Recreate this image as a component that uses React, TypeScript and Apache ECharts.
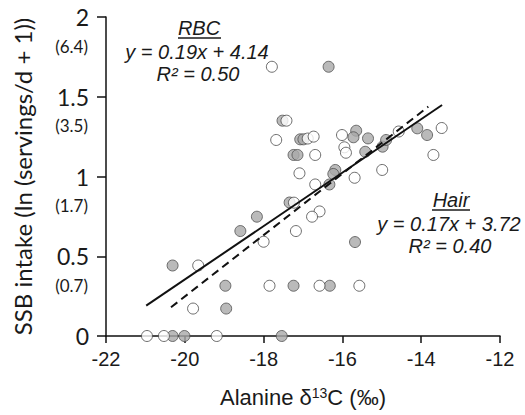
import React, { useEffect, useRef } from "react";
import * as echarts from "echarts";

// RBC (grey, dashed trend) points [x, y]
const rbcPoints: number[][] = [
  [-16.35, 1.688], [-17.52, 1.35], [-17.07, 1.233], [-16.99, 1.233], [-15.65, 1.287],
  [-15.72, 1.246], [-15.35, 1.239], [-17.24, 1.135], [-17.14, 1.135], [-15.42, 1.155],
  [-14.98, 1.187], [-14.89, 1.229], [-14.1, 1.302], [-13.85, 1.26], [-16.18, 1.041],
  [-16.23, 1.016], [-16.33, 0.95], [-17.34, 0.837], [-18.17, 0.748], [-18.59, 0.658],
  [-20.31, 0.442], [-15.68, 0.589], [-18.97, 0.315], [-17.24, 0.315], [-16.32, 0.315],
  [-18.95, 0.172], [-20.31, 0], [-20.01, 0], [-17.54, 0],
];

// Hair (white, solid trend) points [x, y]
const hairPoints: number[][] = [
  [-17.79, 1.688], [-17.42, 1.35], [-17.68, 1.229], [-16.88, 1.238], [-16.73, 1.25],
  [-16.01, 1.26], [-15.95, 1.183], [-15.91, 1.149], [-16.69, 1.135], [-17.09, 1.02],
  [-15.69, 0.992], [-16.69, 0.95], [-14.57, 1.282], [-13.48, 1.304], [-13.69, 1.135],
  [-14.99, 1.041], [-17.23, 0.836], [-16.58, 0.781], [-16.77, 0.748], [-17.18, 0.658],
  [-18.0, 0.591], [-19.66, 0.442], [-17.85, 0.315], [-16.58, 0.315], [-15.57, 0.315],
  [-19.79, 0.172], [-20.96, 0], [-20.53, 0], [-19.19, 0],
];

// Trend line endpoints
const rbcTrend: number[][] = [[-20.35, 0.18], [-13.82, 1.438]];
const hairTrend: number[][] = [[-20.98, 0.19], [-13.47, 1.448]];

// Secondary y tick labels (servings/d), attached to these y ticks
const ySubTicks: number[] = [2, 1.5, 1, 0.5];
const ySubLabels: string[] = ["(6.4)", "(3.5)", "(1.7)", "(0.7)"];

const rbcEq = ["RBC", "y = 0.19x + 4.14", "R² = 0.50"];
const hairEq = ["Hair", "y = 0.17x + 3.72", "R² = 0.40"];

export default function App() {
  const ref = useRef<HTMLDivElement>(null);
  useEffect(() => {
    if (!ref.current) return;
    const chart = echarts.init(ref.current, undefined, { renderer: "svg" });
    const eqFont = "italic 20px 'Liberation Sans', Arial, sans-serif";
    const txt = (x: number, y: number, s: string) => ({
      type: "text",
      x,
      y,
      style: { text: s, font: eqFont, fill: "#1a1a1a", align: "center", verticalAlign: "middle" },
    });
    const annotations: any[] = [
      txt(199, 28, rbcEq[0]),
      { type: "line", shape: { x1: 178, y1: 38, x2: 221, y2: 38 }, style: { stroke: "#1a1a1a", lineWidth: 1.3 } },
      txt(197, 52, rbcEq[1]),
      txt(198, 74, rbcEq[2]),
      txt(451, 200, hairEq[0]),
      { type: "line", shape: { x1: 432, y1: 210, x2: 470, y2: 210 }, style: { stroke: "#1a1a1a", lineWidth: 1.3 } },
      txt(449, 224, hairEq[1]),
      txt(450, 246, hairEq[2]),
    ];
    chart.setOption({
      animation: false,
      grid: { left: 106, right: 25, top: 17, bottom: 79 },
      xAxis: {
        type: "value",
        min: -22,
        max: -12,
        interval: 2,
        axisLine: { lineStyle: { color: "#111", width: 1.5 } },
        axisTick: { show: true, length: 7, inside: false, lineStyle: { color: "#111", width: 1.5 } },
        splitLine: { show: false },
        axisLabel: { fontSize: 20, color: "#1a1a1a", fontFamily: "'Liberation Sans', Arial", margin: 13 },
        name: "Alanine δ{sup|13}C (‰)",
        nameLocation: "middle",
        nameGap: 50,
        nameTextStyle: {
          fontSize: 22,
          color: "#1a1a1a",
          fontFamily: "'Liberation Sans', Arial",
          rich: { sup: { fontSize: 14, verticalAlign: "bottom", padding: [0, 0, 9, 0], fontFamily: "'Liberation Sans', Arial", color: "#1a1a1a" } },
        },
      },
      yAxis: {
        type: "value",
        min: 0,
        max: 2,
        interval: 0.5,
        axisLine: { show: true, lineStyle: { color: "#111", width: 1.5 } },
        axisTick: { show: true, length: 9, lineStyle: { color: "#111", width: 1.5 } },
        splitLine: { show: false },
        axisLabel: { fontSize: 23, color: "#1a1a1a", fontFamily: "Lato", margin: 17, showMinLabel: true, showMaxLabel: true },
        name: "SSB intake (ln (servings/d + 1))",
        nameLocation: "middle",
        nameGap: 72,
        nameRotate: 90,
        nameTextStyle: { fontSize: 24, color: "#1a1a1a", fontFamily: "Lato" },
      },
      series: [
        {
          type: "scatter",
          data: rbcPoints,
          symbol: "circle",
          symbolSize: 11,
          itemStyle: { color: "#a9a9a9", borderColor: "#505050", borderWidth: 1 },
          z: 2,
        },
        {
          type: "scatter",
          data: hairPoints,
          symbol: "circle",
          symbolSize: 11,
          itemStyle: { color: "#ffffff", borderColor: "#484848", borderWidth: 1 },
          z: 2,
        },
        {
          type: "line",
          data: rbcTrend,
          showSymbol: false,
          lineStyle: { color: "#111", width: 2, type: [8, 5] },
          z: 3,
        },
        {
          type: "line",
          data: hairTrend,
          showSymbol: false,
          lineStyle: { color: "#111", width: 2 },
          z: 3,
        },
      ],
      graphic: annotations,
    });
    // secondary tick labels, placed through the y axis scale just below each main label
    const subTexts = ySubTicks.map((v, i) => {
      const p = chart.convertToPixel({ gridIndex: 0 }, [-22, v]) as number[];
      return {
        type: "text",
        x: p[0] - 18,
        y: p[1] + 29,
        style: {
          text: ySubLabels[i],
          fontSize: 17,
          fontFamily: "Lato",
          fill: "#1a1a1a",
          align: "right",
          verticalAlign: "middle",
        },
      };
    });
    chart.setOption({ graphic: [...annotations, ...subTexts] });
    return () => chart.dispose();
  }, []);
  return <div ref={ref} style={{ position: "fixed", left: 0, top: 0, width: 525, height: 415, background: "#fff" }} />;
}
